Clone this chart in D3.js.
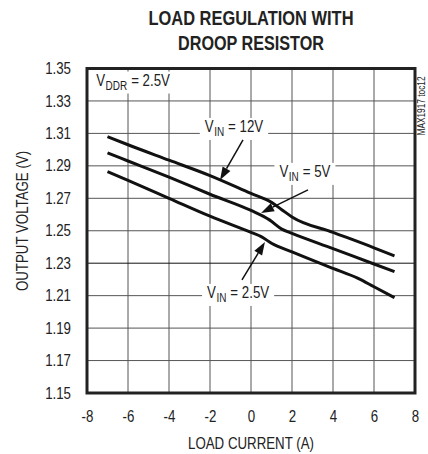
<!DOCTYPE html>
<html><head><meta charset="utf-8">
<script src="https://cdn.jsdelivr.net/npm/d3@7"></script>
<style>
body{margin:0;background:#fff;}
text{font-family:"Liberation Sans",Arial,sans-serif;fill:#222;}
</style></head><body>
<svg id="c" width="428" height="454"></svg>
<script>
// ---- data ----
const xTicks = [-8,-6,-4,-2,0,2,4,6,8];
const yTicks = [1.15,1.17,1.19,1.21,1.23,1.25,1.27,1.29,1.31,1.33,1.35];
const current12 = [-7,-6,-4,-2,0,1,1.5,2,4,6,7];
const vin12     = [1.308,1.303,1.2935,1.284,1.273,1.2675,1.263,1.2585,1.249,1.2395,1.2345];
const current5  = [-7,-6,-4,-2,0,0.9,1.5,2,4,6,7];
const vin5      = [1.298,1.293,1.283,1.2725,1.2625,1.2567,1.251,1.2484,1.239,1.2295,1.2248];
const current25 = [-7,-6,-4,-2,0,0.5,1,2,4,5.2,6,7];
const vin25     = [1.2864,1.281,1.270,1.259,1.249,1.2464,1.2423,1.237,1.2268,1.2208,1.2155,1.2088];
const labels = [
  {main:"V", sub:"IN", rest:"= 12V",  x:-0.83, y:1.3109},
  {main:"V", sub:"IN", rest:"= 5V",   x:2.63,  y:1.2832},
  {main:"V", sub:"IN", rest:"= 2.5V", x:-0.63, y:1.2086}
];
const arrows = [
  {x1:-0.39, y1:1.306, x2:-1.51, y2:1.2813},
  {x1:2.78,  y1:1.2752, x2:0.49, y2:1.261},
  {x1:-0.44, y1:1.2197, x2:0.68, y2:1.2431}
];

const svg = d3.select("#c");
const x = d3.scaleLinear().domain([-8,8]).range([87,415]);
const y = d3.scaleLinear().domain([1.15,1.35]).range([393,68.5]);

function narrow(sel, k){
  sel.each(function(){
    const w = this.getComputedTextLength();
    d3.select(this).attr("textLength", w*k).attr("lengthAdjust","spacingAndGlyphs");
  });
  return sel;
}
const K = 0.83;
const FS = "16px";

// title
svg.append("text").attr("x",251).attr("y",25).attr("text-anchor","middle")
  .style("font-weight","bold").style("font-size","21px").attr("textLength",205).attr("lengthAdjust","spacingAndGlyphs")
  .text("LOAD REGULATION WITH");
svg.append("text").attr("x",251).attr("y",50).attr("text-anchor","middle")
  .style("font-weight","bold").style("font-size","21px").attr("textLength",146).attr("lengthAdjust","spacingAndGlyphs")
  .text("DROOP RESISTOR");

// grid
svg.append("g").selectAll("line").data(xTicks.slice(1,-1)).join("line")
  .attr("x1",d=>x(d)).attr("x2",d=>x(d)).attr("y1",y(1.35)).attr("y2",y(1.15))
  .attr("stroke","#555").attr("stroke-width",1);
svg.append("g").selectAll("line").data(yTicks.slice(1,-1)).join("line")
  .attr("y1",d=>y(d)).attr("y2",d=>y(d)).attr("x1",x(-8)).attr("x2",x(8))
  .attr("stroke",d=>Math.abs(d-1.23)<1e-6?"#111":"#555").attr("stroke-width",1);

// axes labels via d3 axes
const xAxis = svg.append("g").attr("transform",`translate(0,${y(1.15)})`)
  .call(d3.axisBottom(x).tickValues(xTicks).tickSize(0).tickPadding(18).tickFormat(d=>String(d)));
xAxis.select(".domain").remove();
xAxis.selectAll("text").style("font-size",FS).attr("fill","#222").attr("font-family",null);
narrow(xAxis.selectAll("text"),K);
const yAxis = svg.append("g").attr("transform",`translate(${x(-8)},0)`)
  .call(d3.axisLeft(y).tickValues(yTicks).tickSize(0).tickPadding(16).tickFormat(d3.format(".2f")));
yAxis.select(".domain").remove();
yAxis.selectAll("text").style("font-size",FS).attr("fill","#222").attr("font-family",null);
narrow(yAxis.selectAll("text"),K);

narrow(svg.append("text").attr("x",251).attr("y",449).attr("text-anchor","middle").style("font-size",FS).text("LOAD CURRENT (A)"),K);
narrow(svg.append("text").attr("transform","translate(28,221) rotate(-90)").attr("text-anchor","middle").style("font-size",FS).text("OUTPUT VOLTAGE (V)"),K);
narrow(svg.append("text").attr("transform","translate(425,106) rotate(-90)").attr("text-anchor","middle").style("font-size","10px").text("MAX1917 toc12"),K);

// lines
const line = d3.line().x(d=>x(d[0])).y(d=>y(d[1])).curve(d3.curveMonotoneX);
[[current12,vin12],[current5,vin5],[current25,vin25]].forEach(([cx,vy])=>{
  svg.append("path").datum(d3.zip(cx,vy)).attr("d",line)
    .attr("fill","none").attr("stroke","#111").attr("stroke-width",3).attr("stroke-linejoin","round");
});

// rich labels: separate text pieces laid out side by side
function richLabel(main, sub, rest, px, py, anchor, pad){
  const g = svg.append("g");
  const bg = g.append("rect").attr("fill","#fff");
  let cx = 0;
  const t1 = narrow(g.append("text").attr("x",0).attr("y",0).style("font-size",FS).text(main),K);
  cx += t1.node().getComputedTextLength() + 0.5;
  const t2 = narrow(g.append("text").attr("x",cx).attr("y",4).style("font-size","12px").text(sub),K);
  cx += t2.node().getComputedTextLength() + 4;
  const t3 = narrow(g.append("text").attr("x",cx).attr("y",0).style("font-size",FS).text(rest),K);
  cx += t3.node().getComputedTextLength();
  const ox = anchor==="middle" ? px - cx/2 : px;
  g.attr("transform",`translate(${ox},${py})`);
  bg.attr("x",-pad).attr("y",-14).attr("width",cx+2*pad).attr("height",22);
  return g;
}
richLabel("V","DDR","= 2.5V",x(-7.55),y(1.3395),"start",7);
labels.forEach(l=>richLabel(l.main,l.sub,l.rest,x(l.x),y(l.y),"middle",5));

// arrows
arrows.forEach(a=>{
  const x1=x(a.x1),y1=y(a.y1),x2=x(a.x2),y2=y(a.y2);
  const ang=Math.atan2(y2-y1,x2-x1), L=13, W=4.5;
  const bx=x2-L*Math.cos(ang), by=y2-L*Math.sin(ang);
  svg.append("line").attr("x1",x1).attr("y1",y1).attr("x2",bx).attr("y2",by).attr("stroke","#111").attr("stroke-width",1.5);
  const p=[[x2,y2],[bx+W*Math.sin(ang),by-W*Math.cos(ang)],[bx-W*Math.sin(ang),by+W*Math.cos(ang)]];
  svg.append("path").attr("d","M"+p.join("L")+"Z").attr("fill","#111");
});

// frame
svg.append("rect").attr("x",x(-8)).attr("y",y(1.35)).attr("width",x(8)-x(-8)).attr("height",y(1.15)-y(1.35))
  .attr("fill","none").attr("stroke","#222").attr("stroke-width",3);
</script></body></html>
